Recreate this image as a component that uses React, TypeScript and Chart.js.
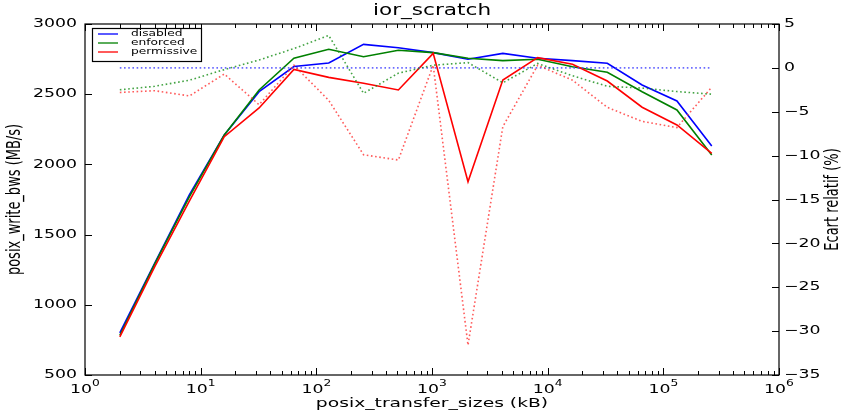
import React, { useEffect, useRef } from "react";
import { Chart, registerables } from "chart.js";

Chart.register(...registerables);

// ---- data ----
const transferSizes = [2, 4, 8, 16, 32, 64, 128, 256, 512, 1024, 2048, 4096, 8192, 16384, 32768, 65536, 131072, 262144];
const disabledBw = [800, 1295, 1785, 2210, 2518, 2697, 2722, 2855, 2831, 2796, 2749, 2791, 2756, 2739, 2720, 2566, 2452, 2131];
const enforcedBw = [783, 1290, 1770, 2209, 2530, 2756, 2820, 2767, 2813, 2796, 2756, 2739, 2749, 2696, 2656, 2518, 2388, 2067];
const permissiveBw = [772, 1270, 1740, 2197, 2402, 2677, 2620, 2578, 2530, 2791, 1877, 2601, 2760, 2713, 2594, 2407, 2281, 2079];
const disabledRel = [0, 0, 0, 0, 0, 0, 0, 0, 0, 0, 0, 0, 0, 0, 0, 0, 0, 0];
const enforcedRel = [-2.5, -2.1, -1.4, -0.2, 0.9, 2.2, 3.7, -2.9, -0.6, 0.3, 0.6, -1.7, 0.5, -0.9, -2.1, -2.3, -2.7, -3.0];
const permissiveRel = [-2.8, -2.6, -3.2, -0.7, -4.2, 0.3, -3.7, -9.9, -10.5, 0.3, -31.6, -6.7, 0.3, -1.4, -4.5, -6.1, -6.8, -2.2];

const seriesNames = ["disabled", "enforced", "permissive"];
const seriesColors = ["#0000ff", "#008000", "#ff0000"];
const dottedColors = ["rgba(70,70,255,0.8)", "rgba(20,140,20,0.8)", "rgba(255,50,50,0.8)"];

const leftTicks = [500, 1000, 1500, 2000, 2500, 3000];
const rightTicks = [-35, -30, -25, -20, -15, -10, -5, 0, 5];
const xExponents = [0, 1, 2, 3, 4, 5, 6];

const titleText = "ior_scratch";
const xTitle = "posix_transfer_sizes (kB)";
const yTitle = "posix_write_bws (MB/s)";
const y1Title = "Ecart relatif (%)";

const FONT = '"DejaVu Sans"';
const SX = 1.44;

function txt(ctx: CanvasRenderingContext2D, s: string, x: number, y: number, size: number, align: CanvasTextAlign, baseline: CanvasTextBaseline, rot = 0) {
  ctx.save();
  ctx.translate(x, y);
  ctx.scale(SX, 1);
  if (rot) ctx.rotate(rot);
  ctx.font = `${size}px ${FONT}`;
  ctx.textAlign = align;
  ctx.textBaseline = baseline;
  ctx.fillStyle = "#000";
  ctx.fillText(s, 0, 0);
  ctx.restore();
}

const decorPlugin = {
  id: "decor",
  afterDraw(chart: any) {
    const ctx: CanvasRenderingContext2D = chart.ctx;
    const { left, right, top, bottom } = chart.chartArea;
    const xs = chart.scales.x;
    const ys = chart.scales.y;
    const y1 = chart.scales.y1;
    ctx.save();
    // frame
    ctx.strokeStyle = "#000";
    ctx.lineWidth = 1.2;
    ctx.strokeRect(left, top, right - left, bottom - top);
    // ticks
    ctx.lineWidth = 1;
    ctx.beginPath();
    for (const e of xExponents) {
      const px = Math.round(xs.getPixelForValue(Math.pow(10, e))) + 0.5;
      ctx.moveTo(px, bottom); ctx.lineTo(px, bottom - 7);
      ctx.moveTo(px, top); ctx.lineTo(px, top + 7);
      if (e < 6) {
        for (let m = 2; m <= 9; m++) {
          const mx = Math.round(xs.getPixelForValue(m * Math.pow(10, e))) + 0.5;
          ctx.moveTo(mx, bottom); ctx.lineTo(mx, bottom - 4);
          ctx.moveTo(mx, top); ctx.lineTo(mx, top + 4);
        }
      }
    }
    for (const v of leftTicks) {
      const py = Math.round(ys.getPixelForValue(v)) + 0.5;
      ctx.moveTo(left, py); ctx.lineTo(left + 7, py);
    }
    for (const v of rightTicks) {
      const py = Math.round(y1.getPixelForValue(v)) + 0.5;
      ctx.moveTo(right, py); ctx.lineTo(right - 7, py);
    }
    ctx.stroke();

    // tick labels
    for (const v of leftTicks) {
      txt(ctx, String(v), left - 8, ys.getPixelForValue(v), 12, "right", "middle");
    }
    for (const v of rightTicks) {
      const s = v < 0 ? "\u2212" + String(-v) : String(v);
      txt(ctx, s, right + 5, y1.getPixelForValue(v), 12, "left", "middle");
    }
    for (const e of xExponents) {
      const px = xs.getPixelForValue(Math.pow(10, e));
      ctx.font = `12px ${FONT}`;
      const w1 = ctx.measureText("10").width * SX;
      ctx.font = `8.5px ${FONT}`;
      const w2 = ctx.measureText(String(e)).width * SX;
      const x0 = px - (w1 + w2) / 2;
      txt(ctx, "10", x0, bottom + 18, 12, "left", "alphabetic");
      txt(ctx, String(e), x0 + w1, bottom + 11, 8.5, "left", "alphabetic");
    }

    // titles
    txt(ctx, titleText, (left + right) / 2, 11, 15, "center", "middle");
    txt(ctx, xTitle, (left + right) / 2, 404, 13, "center", "middle");
    txt(ctx, yTitle, 15.5, (top + bottom) / 2, 13, "center", "middle", -Math.PI / 2);
    txt(ctx, y1Title, 833, (top + bottom) / 2, 13, "center", "middle", -Math.PI / 2);

    // legend
    const lx = 92, ly = 28, lw = 109, lh = 33;
    ctx.fillStyle = "#fff";
    ctx.fillRect(lx, ly, lw, lh);
    ctx.strokeStyle = "#000";
    ctx.lineWidth = 1.2;
    ctx.strokeRect(lx + 0.5, ly + 0.5, lw, lh);
    seriesNames.forEach((n, i) => {
      const yy = ly + 6 + i * 9;
      ctx.strokeStyle = seriesColors[i];
      ctx.lineWidth = 1.3;
      ctx.beginPath();
      ctx.moveTo(98, yy); ctx.lineTo(118, yy);
      ctx.stroke();
      txt(ctx, n, 131, yy, 8.5, "left", "middle");
    });
    ctx.restore();
  },
};

export default function App() {
  const ref = useRef<HTMLCanvasElement | null>(null);
  useEffect(() => {
    if (!ref.current) return;
    const pts = (ys: number[]) => transferSizes.map((x, i) => ({ x, y: ys[i] }));
    const bw = [disabledBw, enforcedBw, permissiveBw];
    const rel = [disabledRel, enforcedRel, permissiveRel];
    const datasets: any[] = [];
    bw.forEach((d, i) => {
      datasets.push({
        label: seriesNames[i],
        data: pts(d),
        yAxisID: "y",
        borderColor: seriesColors[i],
        backgroundColor: seriesColors[i],
        borderWidth: 1.6,
        pointRadius: 0,
        tension: 0,
        fill: false,
        order: 8 - i,
      });
    });
    rel.forEach((d, i) => {
      datasets.push({
        label: seriesNames[i] + " (écart)",
        data: pts(d),
        yAxisID: "y1",
        borderColor: dottedColors[i],
        backgroundColor: dottedColors[i],
        borderWidth: 1.6,
        borderDash: [1.6, 2.6],
        pointRadius: 0,
        tension: 0,
        fill: false,
        order: 3 - i,
      });
    });
    const chart = new Chart(ref.current, {
      type: "line",
      data: { datasets },
      options: {
        responsive: false,
        animation: false,
        devicePixelRatio: 1,
        layout: { padding: { left: 85, right: 63, top: 24, bottom: 38 } },
        plugins: { legend: { display: false }, title: { display: false }, tooltip: { enabled: false } },
        scales: {
          x: { type: "logarithmic", min: 1, max: 1e6, display: false },
          y: { type: "linear", position: "left", min: 500, max: 3000, display: false },
          y1: { type: "linear", position: "right", min: -35, max: 5, display: false },
        },
      },
      plugins: [decorPlugin],
    });
    return () => chart.destroy();
  }, []);
  return (
    <div style={{ position: "fixed", left: 0, top: 0, width: 842, height: 413, background: "#fff" }}>
      <canvas ref={ref} width={842} height={413} style={{ width: 842, height: 413 }} />
    </div>
  );
}
